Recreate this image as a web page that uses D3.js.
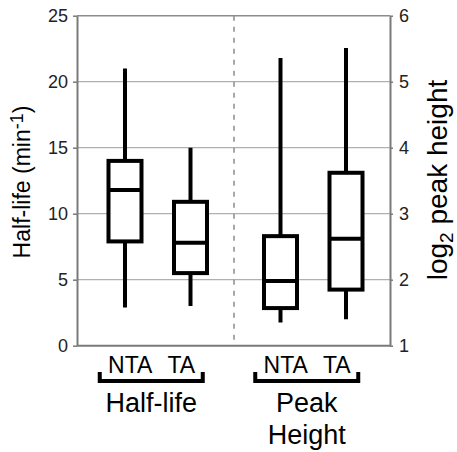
<!DOCTYPE html>
<html>
<head>
<meta charset="utf-8">
<script src="https://cdn.jsdelivr.net/npm/d3@7"></script>
<style>
  body { margin: 0; background: #fff; }
  svg { display: block; }
  text { font-family: "Liberation Sans", Arial, sans-serif; }
</style>
</head>
<body>
<div id="chart"></div>
<script>
// box plot values
var groups = ["Half-life", "Peak Height"];
var categories = ["NTA", "TA"];

var halfLifeMin = [2.9, 3.0];
var halfLifeQ1 = [7.9, 5.5];
var halfLifeMedian = [11.8, 7.8];
var halfLifeQ3 = [14.0, 10.9];
var halfLifeMax = [21.0, 15.0];

var peakMin = [1.35, 1.4];
var peakQ1 = [1.57, 1.85];
var peakMedian = [1.98, 2.62];
var peakQ3 = [2.66, 3.62];
var peakMax = [5.36, 5.51];

var leftTicks = [0, 5, 10, 15, 20, 25];
var rightTicks = [1, 2, 3, 4, 5, 6];
var groupLabels = [["Half-life"], ["Peak", "Height"]];

var svgWidth = 457;
var svgHeight = 452;
var margin = { top: 15.7, right: 67, bottom: 106.3, left: 77 };
var width = svgWidth - margin.left - margin.right;
var height = svgHeight - margin.top - margin.bottom;

var svg = d3.select("#chart")
  .append("svg")
  .attr("width", svgWidth)
  .attr("height", svgHeight);

var chartGroup = svg.append("g")
  .attr("transform", `translate(${margin.left}, ${margin.top})`);

var yLeft = d3.scaleLinear().domain([0, 25]).range([height, 0]);
var yRight = d3.scaleLinear().domain([1, 6]).range([height, 0]);

var xGroup = d3.scaleBand().domain(groups).range([3, 314]);
var xCat = d3.scalePoint().domain(categories)
  .range([0, xGroup.bandwidth()]).padding(0.687);

// build box list
var boxes = [];
categories.forEach(function(c, i) {
  boxes.push({ group: groups[0], cat: c, y: yLeft, min: halfLifeMin[i], q1: halfLifeQ1[i],
    med: halfLifeMedian[i], q3: halfLifeQ3[i], max: halfLifeMax[i] });
});
categories.forEach(function(c, i) {
  boxes.push({ group: groups[1], cat: c, y: yRight, min: peakMin[i], q1: peakQ1[i],
    med: peakMedian[i], q3: peakQ3[i], max: peakMax[i] });
});

// gridlines
chartGroup.selectAll(".grid")
  .data(leftTicks.filter(d => d > 0))
  .enter()
  .append("line")
  .attr("x1", 0)
  .attr("x2", width)
  .attr("y1", d => yLeft(d))
  .attr("y2", d => yLeft(d))
  .attr("stroke", d => d == 25 ? "#8c8c8c" : "#b0b0b0")
  .attr("stroke-width", d => d == 25 ? 1.6 : 1.2);

// dashed separator
var sepX = xGroup(groups[1]) - 1.5;
chartGroup.append("line")
  .attr("x1", sepX).attr("x2", sepX)
  .attr("y1", 0).attr("y2", height)
  .attr("stroke", "#8c8c8c")
  .attr("stroke-width", 1.5)
  .attr("stroke-dasharray", "5,6");

// axes
var leftAxis = d3.axisLeft(yLeft).tickValues(leftTicks).tickFormat(d3.format("d"))
  .tickSize(4).tickSizeOuter(0).tickPadding(5);
var rightAxis = d3.axisRight(yRight).tickValues(rightTicks).tickFormat(d3.format("d"))
  .tickSize(3).tickSizeOuter(0).tickPadding(6);

var gl = chartGroup.append("g").call(leftAxis);
var gr = chartGroup.append("g").attr("transform", `translate(${width}, 0)`).call(rightAxis);

[gl, gr].forEach(function(g) {
  g.select(".domain").attr("stroke", "#7a7a7a").attr("stroke-width", 2);
  g.selectAll(".tick line").attr("stroke", "#7a7a7a").attr("stroke-width", 1.5);
  g.selectAll(".tick text").attr("font-size", 18).attr("fill", "#222")
    .attr("font-family", "'Liberation Sans', Arial, sans-serif");
});

chartGroup.append("line")
  .attr("x1", 0).attr("x2", width)
  .attr("y1", height).attr("y2", height)
  .attr("stroke", "#7a7a7a")
  .attr("stroke-width", 2);

// boxes
var boxW = 33;
var boxG = chartGroup.selectAll(".box")
  .data(boxes)
  .enter()
  .append("g");

boxG.append("line")
  .attr("x1", d => xGroup(d.group) + xCat(d.cat))
  .attr("x2", d => xGroup(d.group) + xCat(d.cat))
  .attr("y1", d => d.y(d.max))
  .attr("y2", d => d.y(d.min))
  .attr("stroke", "#000")
  .attr("stroke-width", 4);

boxG.append("rect")
  .attr("x", d => xGroup(d.group) + xCat(d.cat) - boxW / 2)
  .attr("width", boxW)
  .attr("y", d => d.y(d.q3))
  .attr("height", d => d.y(d.q1) - d.y(d.q3))
  .attr("fill", "#fff")
  .attr("stroke", "#000")
  .attr("stroke-width", 4);

boxG.append("line")
  .attr("x1", d => xGroup(d.group) + xCat(d.cat) - boxW / 2)
  .attr("x2", d => xGroup(d.group) + xCat(d.cat) + boxW / 2)
  .attr("y1", d => d.y(d.med))
  .attr("y2", d => d.y(d.med))
  .attr("stroke", "#000")
  .attr("stroke-width", 4);

// labels under the plot
groups.forEach(function(g, i) {
  var cx = margin.left + xGroup(g) + xGroup.bandwidth() / 2 - 6.5;

  svg.append("path")
    .attr("d", `M${cx - 51.5},372 V381 H${cx + 51.5} V372`)
    .attr("fill", "none")
    .attr("stroke", "#000")
    .attr("stroke-width", 4);

  svg.append("text").attr("x", cx - 21).attr("y", 373)
    .attr("text-anchor", "middle").attr("font-size", 23).text(categories[0]);
  svg.append("text").attr("x", cx + 30).attr("y", 373)
    .attr("text-anchor", "middle").attr("font-size", 23).text(categories[1]);

  groupLabels[i].forEach(function(line, j) {
    svg.append("text")
      .attr("x", cx)
      .attr("y", 412 + j * 32)
      .attr("text-anchor", "middle")
      .attr("font-size", 27)
      .text(line);
  });
});

// axis titles
var lt = svg.append("text")
  .attr("transform", "translate(30, 182) rotate(-90)")
  .attr("text-anchor", "middle")
  .attr("font-size", 23);
lt.append("tspan").text("Half-life (min");
lt.append("tspan").attr("font-size", 18).attr("dy", -7).text("-1");
lt.append("tspan").attr("dy", 7).text(")");

var rt = svg.append("text")
  .attr("transform", "translate(447, 180) rotate(-90)")
  .attr("text-anchor", "middle")
  .attr("font-size", 28);
rt.append("tspan").text("log");
rt.append("tspan").attr("font-size", 19).attr("dy", 6).text("2");
rt.append("tspan").attr("dy", -6).text(" peak height");
</script>
</body>
</html>
